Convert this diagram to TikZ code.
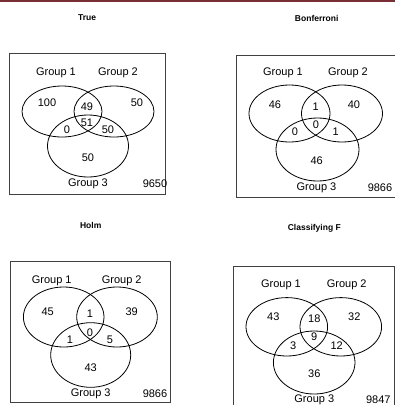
\documentclass[tikz,border=0pt]{standalone}
\usepackage{fontspec}
\setmainfont{Liberation Sans}
\definecolor{topbar}{HTML}{7B2D35}
\definecolor{boxgray}{HTML}{404040}
\begin{document}
\begin{tikzpicture}[x=1bp,y=-1bp,
  lab/.style={inner sep=0pt,font=\fontsize{11bp}{13bp}\selectfont},
  ttl/.style={inner sep=0pt,font=\fontsize{8.5bp}{10bp}\selectfont\bfseries},
  ell/.style={draw=black,line width=0.8bp},
  frame/.style={draw=boxgray,line width=0.9bp}]
\useasboundingbox (0,0) rectangle (395,405);
\fill[topbar] (0,0) rectangle (395,2);

% ---------- True ----------
\node[ttl] (t1) at (87,18) {True};
\draw[frame] (9.3,53.3) rectangle (165.7,194.3);
\draw[ell] (62,111.5) ellipse [x radius=40bp, y radius=25.5bp];
\draw[ell] (114,111.5) ellipse [x radius=40bp, y radius=25.5bp];
\draw[ell] (88,146) ellipse [x radius=40.5bp, y radius=31bp];
\node[lab] (a1) at (56,73) {Group 1};
\node[lab] (a2) at (118,73) {Group 2};
\node[lab] (a3) at (88,184) {Group 3};
\node[lab] (a4) at (47,103) {100};
\node[lab] (a5) at (87,107) {49};
\node[lab] (a6) at (137,103) {50};
\node[lab] (a7) at (87,123) {51};
\node[lab] (a8) at (67,130) {0};
\node[lab] (a9) at (108,130) {50};
\node[lab] (a10) at (88,157.5) {50};
\node[lab] (a11) at (155,184) {9650};

% ---------- Bonferroni ----------
\node[ttl] (t2) at (316.7,18) {Bonferroni};
\draw[frame] (395,55.5) -- (236.7,55.5) -- (236.7,197.5) -- (395,197.5);
\draw[ell] (289.5,113.5) ellipse [x radius=40.5bp, y radius=28.5bp];
\draw[ell] (342,113.5) ellipse [x radius=40.5bp, y radius=28.5bp];
\draw[ell] (317.5,149.5) ellipse [x radius=41.5bp, y radius=31.5bp];
\node[lab] (b1) at (283,73) {Group 1};
\node[lab] (b2) at (348,73) {Group 2};
\node[lab] (b3) at (316.5,187.5) {Group 3};
\node[lab] (b4) at (275,105) {46};
\node[lab] (b5) at (315.7,107) {1};
\node[lab] (b6) at (354,105) {40};
\node[lab] (b7) at (316,125) {0};
\node[lab] (b8) at (295,132) {0};
\node[lab] (b9) at (335.7,132) {1};
\node[lab] (b10) at (316.7,161) {46};
\node[lab] (b11) at (380,187.5) {9866};

% ---------- Holm ----------
\node[ttl] (t3) at (90.7,225) {Holm};
\draw[frame] (10.7,261.7) rectangle (170.7,402.7);
\draw[ell] (63.7,317) ellipse [x radius=40.3bp, y radius=30bp];
\draw[ell] (117,317) ellipse [x radius=40.3bp, y radius=30bp];
\draw[ell] (90.7,355) ellipse [x radius=40bp, y radius=32.3bp];
\node[lab] (c1) at (51.7,280.7) {Group 1};
\node[lab] (c2) at (121.7,280.7) {Group 2};
\node[lab] (c3) at (90.7,393.3) {Group 3};
\node[lab] (c4) at (47.7,311.7) {45};
\node[lab] (c5) at (90,313.3) {1};
\node[lab] (c6) at (131.7,311.7) {39};
\node[lab] (c7) at (90,332.3) {0};
\node[lab] (c8) at (70,339.3) {1};
\node[lab] (c9) at (110,339.3) {5};
\node[lab] (c10) at (90.7,367.7) {43};
\node[lab] (c11) at (155,393.3) {9866};

% ---------- Classifying F ----------
\node[ttl] (t4) at (314.3,228.3) {Classifying F};
\draw[frame] (394,405) -- (394,266.7) -- (233.3,266.7) -- (233.3,405);
\draw[ell] (286.8,326.8) ellipse [x radius=40.8bp, y radius=29.2bp];
\draw[ell] (340.8,326.8) ellipse [x radius=40.8bp, y radius=29.2bp];
\draw[ell] (314.2,362.5) ellipse [x radius=40.8bp, y radius=31.5bp];
\node[lab] (d1) at (281,285) {Group 1};
\node[lab] (d2) at (346.7,285) {Group 2};
\node[lab] (d3) at (314.3,400) {Group 3};
\node[lab] (d4) at (273.3,316.7) {43};
\node[lab] (d5) at (314.3,319) {18};
\node[lab] (d6) at (354.3,316.7) {32};
\node[lab] (d7) at (314.3,336.7) {9};
\node[lab] (d8) at (293.3,345.7) {3};
\node[lab] (d9) at (336.7,345.7) {12};
\node[lab] (d10) at (314.3,373.3) {36};
\node[lab] (d11) at (378.3,400) {9847};
\end{tikzpicture}
\end{document}
